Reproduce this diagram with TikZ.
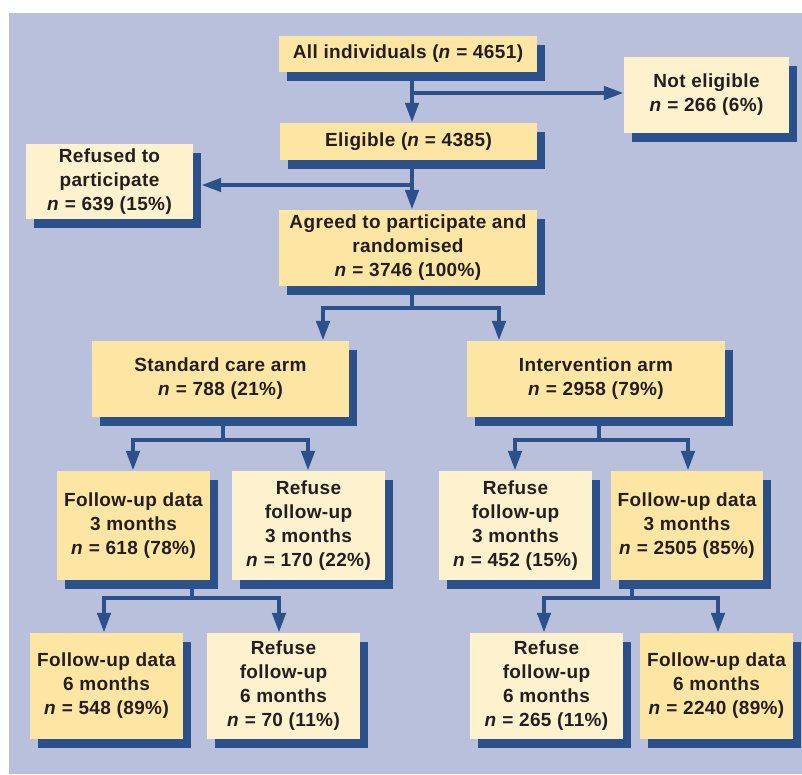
\documentclass[tikz,border=0pt]{standalone}
\usepackage{fontspec}
\setmainfont{Liberation Sans}[LetterSpace=2.0]
\usetikzlibrary{arrows.meta,shadows,calc}
\definecolor{bgblue}{RGB}{184,192,220}
\definecolor{shblue}{RGB}{44,80,137}
\definecolor{boxdark}{RGB}{253,230,163}
\definecolor{boxlight}{RGB}{254,241,205}
\definecolor{txt}{RGB}{35,31,32}
\pgfdeclarelayer{bg}
\pgfdeclarelayer{lines}
\pgfsetlayers{bg,lines,main}
\begin{document}
\begin{tikzpicture}[x=1pt,y=-1pt,
  font=\fontsize{19}{24}\selectfont\bfseries,
  box/.style={inner sep=0pt, align=center, text=txt,
    drop shadow={shadow xshift=8pt,shadow yshift=-9pt,opacity=1,fill=shblue}},
  dark/.style={box, fill=boxdark},
  light/.style={box, fill=boxlight},
  ln/.style={draw=shblue, line width=4.5pt},
  arr/.style={ln, -{Triangle[width=13pt,length=20pt]}}]
\useasboundingbox (0,0) rectangle (802,774);
\begin{pgfonlayer}{bg}
\fill[bgblue] (9,13) rectangle (802,774);
\end{pgfonlayer}

\node[dark, minimum width=258pt, minimum height=36pt] (all) at (408,54) {All individuals (\textit{n} = 4651)};
\node[light, minimum width=165pt, minimum height=76pt] (noteli) at (706.5,95) {Not eligible\\\textit{n} = 266 (6\%)};
\node[dark, minimum width=257pt, minimum height=37pt] (elig) at (408.5,141.5) {Eligible (\textit{n} = 4385)};
\node[light, minimum width=167pt, minimum height=75pt] (refused) at (109.5,181.5) {Refused to\\participate\\\textit{n} = 639 (15\%)};
\node[dark, minimum width=258pt, minimum height=76pt] (agreed) at (408,248) {Agreed to participate and\\randomised\\\textit{n} = 3746 (100\%)};
\node[dark, minimum width=257pt, minimum height=76pt] (std) at (220.5,379) {Standard care arm\\\textit{n} = 788 (21\%)};
\node[dark, minimum width=258pt, minimum height=76pt] (int) at (596,379) {Intervention arm\\\textit{n} = 2958 (79\%)};
\node[dark, minimum width=153pt, minimum height=109pt] (fu3s) at (133.5,525.5) {Follow-up data\\3 months\\\textit{n} = 618 (78\%)};
\node[light, minimum width=153pt, minimum height=109pt] (rf3s) at (308.5,525.5) {Refuse\\follow-up\\3 months\\\textit{n} = 170 (22\%)};
\node[light, minimum width=153pt, minimum height=109pt] (rf3i) at (515.5,525.5) {Refuse\\follow-up\\3 months\\\textit{n} = 452 (15\%)};
\node[dark, minimum width=152pt, minimum height=109pt] (fu3i) at (687,525.5) {Follow-up data\\3 months\\\textit{n} = 2505 (85\%)};
\node[dark, minimum width=153pt, minimum height=106pt] (fu6s) at (106.5,686) {Follow-up data\\6 months\\\textit{n} = 548 (89\%)};
\node[light, minimum width=153pt, minimum height=106pt] (rf6s) at (283.5,686) {Refuse\\follow-up\\6 months\\\textit{n} = 70 (11\%)};
\node[light, minimum width=153pt, minimum height=106pt] (rf6i) at (546.5,686) {Refuse\\follow-up\\6 months\\\textit{n} = 265 (11\%)};
\node[dark, minimum width=153pt, minimum height=106pt] (fu6i) at (716.5,686) {Follow-up data\\6 months\\\textit{n} = 2240 (89\%)};

\coordinate (j1) at (412,93);
\coordinate (j2) at (412,185);
\coordinate (refsh) at ([xshift=8pt]refused.east);
\coordinate (jA) at (412,308);
\coordinate (jAl) at (323,308);
\coordinate (jAr) at (499,308);
\coordinate (jS) at (223,440);
\coordinate (jSl) at (133,440);
\coordinate (jSr) at (308,440);
\coordinate (jI) at (599,440);
\coordinate (jIl) at (515,440);
\coordinate (jIr) at (688,440);
\coordinate (jF) at (192,598);
\coordinate (jFl) at (104,598);
\coordinate (jFr) at (279,598);
\coordinate (jG) at (632,598);
\coordinate (jGl) at (544,598);
\coordinate (jGr) at (718,598);

\begin{pgfonlayer}{lines}
\draw[arr] (all.south -| j1) -- (j1 |- elig.north);
\draw[arr] (j1) -- (j1 -| noteli.west);
\draw[arr] (elig.south -| j2) -- (j2 |- agreed.north);
\draw[arr] (j2) -- (j2 -| refsh);
\draw[arr] (agreed.south -| jA) -- (jA) -- (jAl) -- (jAl |- std.north);
\draw[arr] (jA) -- (jAr) -- (jAr |- int.north);
\draw[arr] (std.south -| jS) -- (jS) -- (jSl) -- (jSl |- fu3s.north);
\draw[arr] (jS) -- (jSr) -- (jSr |- rf3s.north);
\draw[arr] (int.south -| jI) -- (jI) -- (jIl) -- (jIl |- rf3i.north);
\draw[arr] (jI) -- (jIr) -- (jIr |- fu3i.north);
\draw[arr] (fu3s.south -| jF) -- (jF) -- (jFl) -- (jFl |- fu6s.north);
\draw[arr] (jF) -- (jFr) -- (jFr |- rf6s.north);
\draw[arr] (fu3i.south -| jG) -- (jG) -- (jGl) -- (jGl |- rf6i.north);
\draw[arr] (jG) -- (jGr) -- (jGr |- fu6i.north);
\end{pgfonlayer}
\end{tikzpicture}
\end{document}
